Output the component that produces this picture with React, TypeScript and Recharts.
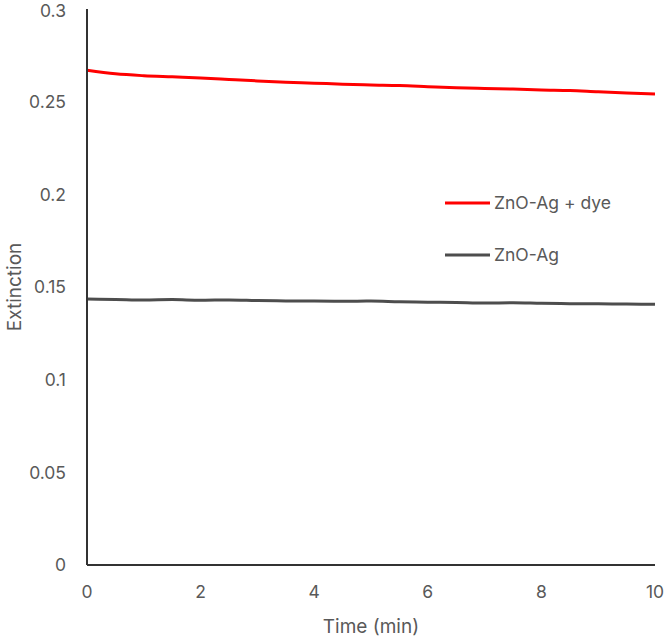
import React from 'react';
import { LineChart, Line, XAxis, YAxis } from 'recharts';

// Time axis (min)
const times = [0, 0.5, 1, 1.5, 2, 2.5, 3, 3.5, 4, 4.5, 5, 5.5, 6, 6.5, 7, 7.5, 8, 8.5, 9, 9.5, 10];

// Extinction of ZnO-Ag with dye
const withDye = [
  0.2669, 0.265, 0.264, 0.2634, 0.2628, 0.262, 0.2612, 0.2605, 0.26, 0.2594, 0.259,
  0.2587, 0.2581, 0.2575, 0.2571, 0.2568, 0.2563, 0.256, 0.2553, 0.2547, 0.2541,
];

// Extinction of bare ZnO-Ag
const bare = [
  0.1435, 0.1433, 0.143, 0.1432, 0.1429, 0.143, 0.1427, 0.1425, 0.1424, 0.1423, 0.1424,
  0.142, 0.1418, 0.1416, 0.1413, 0.1415, 0.1412, 0.141, 0.1409, 0.1408, 0.1407,
];

const xTicks = [0, 2, 4, 6, 8, 10];
const yTicks = [0, 0.05, 0.1, 0.15, 0.2, 0.25, 0.3];

const seriesNames = ['ZnO-Ag + dye', 'ZnO-Ag'];
const seriesColors = ['#ff0000', '#4d4d4d'];

const data = times.map((t, i) => ({ t, dye: withDye[i], bare: bare[i] }));

const FONT = 'Inter, "Open Sans", sans-serif';
const TEXT = '#595959';
const TICK_SIZE = 17.5;
const TITLE_SIZE = 19;

const LegendBox = () => (
  <div
    style={{
      position: 'absolute',
      left: 445,
      top: 191,
      fontFamily: FONT,
      fontSize: TICK_SIZE,
      color: TEXT,
      lineHeight: '24px',
    }}
  >
    {seriesNames.map((name, i) => (
      <div key={name} style={{ display: 'flex', alignItems: 'center', height: 24, marginBottom: i === 0 ? 28 : 0 }}>
        <svg width={49} height={6} style={{ display: 'block' }}>
          <line x1={0} y1={3} x2={45} y2={3} stroke={seriesColors[i]} strokeWidth={3} />
        </svg>
        <span>{name}</span>
      </div>
    ))}
  </div>
);

const YTitle = (props: any) => {
  const vb = props.viewBox || { x: 0, y: 0, width: 0, height: 0 };
  const cx = 14;
  const cy = vb.y + vb.height / 2;
  return (
    <text
      x={cx}
      y={cy}
      transform={`rotate(-90, ${cx}, ${cy})`}
      textAnchor="middle"
      dominantBaseline="central"
      fill={TEXT}
      fontSize={TITLE_SIZE}
      fontFamily={FONT}
    >
      Extinction
    </text>
  );
};

export default function App() {
  return (
    <div style={{ position: 'absolute', left: 0, top: 0, width: 666, height: 637, background: '#fff' }}>
      <LineChart width={666} height={637} data={data} margin={{ top: 9, right: 11, bottom: 0, left: 0 }}>
        <XAxis
          dataKey="t"
          type="number"
          domain={[0, 10]}
          ticks={xTicks}
          tickSize={0}
          tickMargin={21}
          height={72}
          axisLine={{ stroke: '#333', strokeWidth: 2 }}
          tick={{ fill: TEXT, fontSize: TICK_SIZE, fontFamily: FONT }}
          label={{ value: 'Time (min)', position: 'insideBottom', offset: 4, fill: TEXT, fontSize: TITLE_SIZE, fontFamily: FONT }}
        />
        <YAxis
          type="number"
          domain={[0, 0.3]}
          ticks={yTicks}
          width={87}
          tickSize={0}
          tickMargin={21}
          axisLine={{ stroke: '#333', strokeWidth: 2 }}
          tick={{ fill: TEXT, fontSize: TICK_SIZE, fontFamily: FONT }}
          label={<YTitle />}
        />
        <Line
          dataKey="dye"
          name={seriesNames[0]}
          stroke={seriesColors[0]}
          strokeWidth={3}
          dot={false}
          type="monotone"
          isAnimationActive={false}
        />
        <Line
          dataKey="bare"
          name={seriesNames[1]}
          stroke={seriesColors[1]}
          strokeWidth={3}
          dot={false}
          type="monotone"
          isAnimationActive={false}
        />
      </LineChart>
      <LegendBox />
    </div>
  );
}
